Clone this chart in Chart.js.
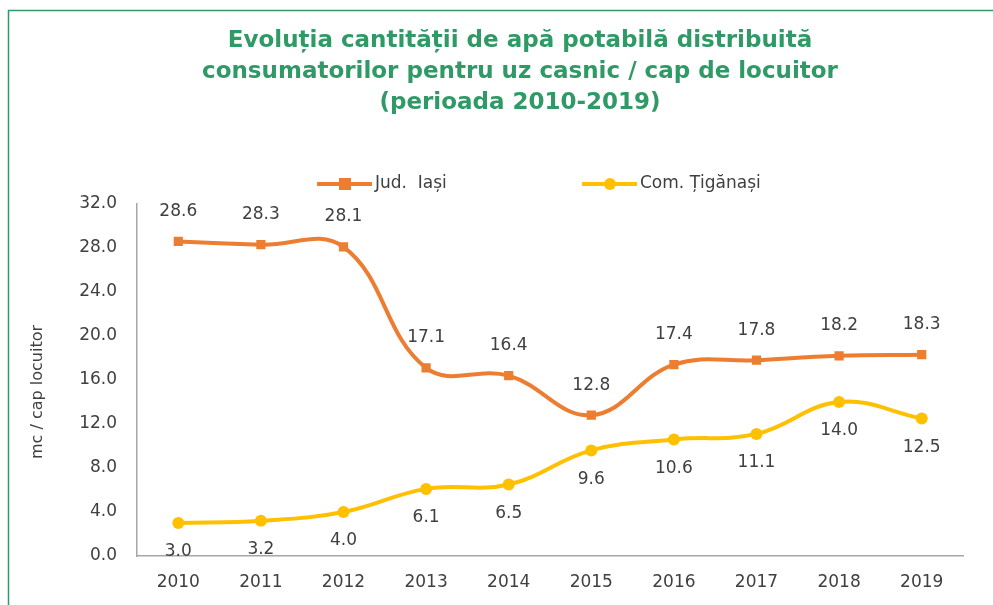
<!DOCTYPE html>
<html>
<head>
<meta charset="utf-8">
<script src="https://cdn.jsdelivr.net/npm/chart.js@4.4.0/dist/chart.umd.min.js"></script>
<style>
  html, body { margin: 0; padding: 0; background: #fff; }
  #wrap { position: relative; width: 993px; height: 605px; }
</style>
</head>
<body>
<div id="wrap"><canvas id="myChart"></canvas></div>
<script>
const years = ["2010", "2011", "2012", "2013", "2014", "2015", "2016", "2017", "2018", "2019"];
const judIasi = [28.6, 28.3, 28.1, 17.1, 16.4, 12.8, 17.4, 17.8, 18.2, 18.3];
const comTiganasi = [3.0, 3.2, 4.0, 6.1, 6.5, 9.6, 10.6, 11.1, 14.0, 12.5];
const yTicks = [0, 4, 8, 12, 16, 20, 24, 28, 32];

const titleLines = [
  "Evoluția cantității de apă potabilă distribuită",
  "consumatorilor pentru uz casnic / cap de locuitor",
  "(perioada 2010-2019)"
];

const green = "#2f9a66";
const textCol = "#404040";
const fontName = "'DejaVu Sans', sans-serif";

// frame, title, legend, axis title and value labels
const decor = {
  id: "decor",
  beforeDraw(chart) {
    const ctx = chart.ctx;
    ctx.save();
    ctx.strokeStyle = green;
    ctx.lineWidth = 1.5;
    ctx.beginPath();
    ctx.moveTo(8.5, 605);
    ctx.lineTo(8.5, 10.5);
    ctx.lineTo(993, 10.5);
    ctx.stroke();
    ctx.restore();
  },
  afterDraw(chart) {
    const ctx = chart.ctx;
    ctx.save();
    // title
    ctx.fillStyle = green;
    ctx.font = "bold 23px " + fontName;
    ctx.textAlign = "center";
    ctx.textBaseline = "middle";
    titleLines.forEach((t, i) => ctx.fillText(t, 520, 41 + i * 31));

    // legend
    const items = [
      { label: "Jud.  Iași", color: "#ED7D31", style: "rect", x: 317 },
      { label: "Com. Țigănași", color: "#FFC000", style: "circle", x: 582 }
    ];
    ctx.font = "17px " + fontName;
    ctx.textAlign = "left";
    items.forEach(it => {
      const y = 184;
      ctx.strokeStyle = it.color;
      ctx.lineWidth = 4;
      ctx.beginPath();
      ctx.moveTo(it.x, y);
      ctx.lineTo(it.x + 55, y);
      ctx.stroke();
      ctx.fillStyle = it.color;
      if (it.style === "rect") {
        ctx.fillRect(it.x + 22, y - 6, 12, 12);
      } else {
        ctx.beginPath();
        ctx.arc(it.x + 28, y, 6, 0, Math.PI * 2);
        ctx.fill();
      }
      ctx.fillStyle = textCol;
      ctx.fillText(it.label, it.x + 58, y);
    });

    // y axis title
    ctx.translate(38, 392);
    ctx.rotate(-Math.PI / 2);
    ctx.textAlign = "center";
    ctx.font = "16px " + fontName;
    ctx.fillText("mc / cap locuitor", 0, 0);
    ctx.restore();

    // value labels
    ctx.save();
    ctx.font = "17px " + fontName;
    ctx.fillStyle = textCol;
    ctx.textAlign = "center";
    ctx.textBaseline = "middle";
    chart.data.datasets.forEach((ds, di) => {
      const meta = chart.getDatasetMeta(di);
      meta.data.forEach((pt, i) => {
        const off = di === 0 ? -30 : 29;
        ctx.fillText(ds.data[i].toFixed(1), pt.x, pt.y + off);
      });
    });
    ctx.restore();
  }
};

new Chart(document.getElementById("myChart"), {
  type: "line",
  data: {
    labels: years,
    datasets: [
      {
        label: "Jud.  Iași",
        data: judIasi,
        borderColor: "#ED7D31",
        backgroundColor: "#ED7D31",
        borderWidth: 4,
        tension: 0.4,
        pointStyle: "rect",
        pointRadius: 6.5,
        pointHoverRadius: 6.5,
        pointBorderWidth: 0
      },
      {
        label: "Com. Țigănași",
        data: comTiganasi,
        borderColor: "#FFC000",
        backgroundColor: "#FFC000",
        borderWidth: 4,
        tension: 0.4,
        pointStyle: "circle",
        pointRadius: 6,
        pointHoverRadius: 6,
        pointBorderWidth: 0
      }
    ]
  },
  options: {
    responsive: true,
    maintainAspectRatio: false,
    animation: false,
    layout: { padding: { top: 204, right: 30, left: 0, bottom: 0 } },
    plugins: {
      legend: { display: false },
      title: { display: false },
      tooltip: { enabled: false }
    },
    scales: {
      x: {
        offset: true,
        grid: { display: false, drawTicks: false, offset: true },
        border: { color: "#a6a6a6", width: 1.5 },
        ticks: { color: textCol, font: { family: fontName, size: 17 }, padding: 16, maxRotation: 0 },
        afterFit(scale) { scale.height = 49; }
      },
      y: {
        min: 0,
        max: 32,
        afterBuildTicks(scale) { scale.ticks = yTicks.map(v => ({ value: v })); },
        grid: { display: false, drawTicks: false },
        border: { color: "#a6a6a6", width: 1.5 },
        ticks: {
          color: textCol,
          font: { family: fontName, size: 17 },
          padding: 20,
          callback: v => Number(v).toFixed(1)
        },
        afterFit(scale) { scale.width = 137; }
      }
    }
  },
  plugins: [decor]
});
</script>
</body>
</html>
